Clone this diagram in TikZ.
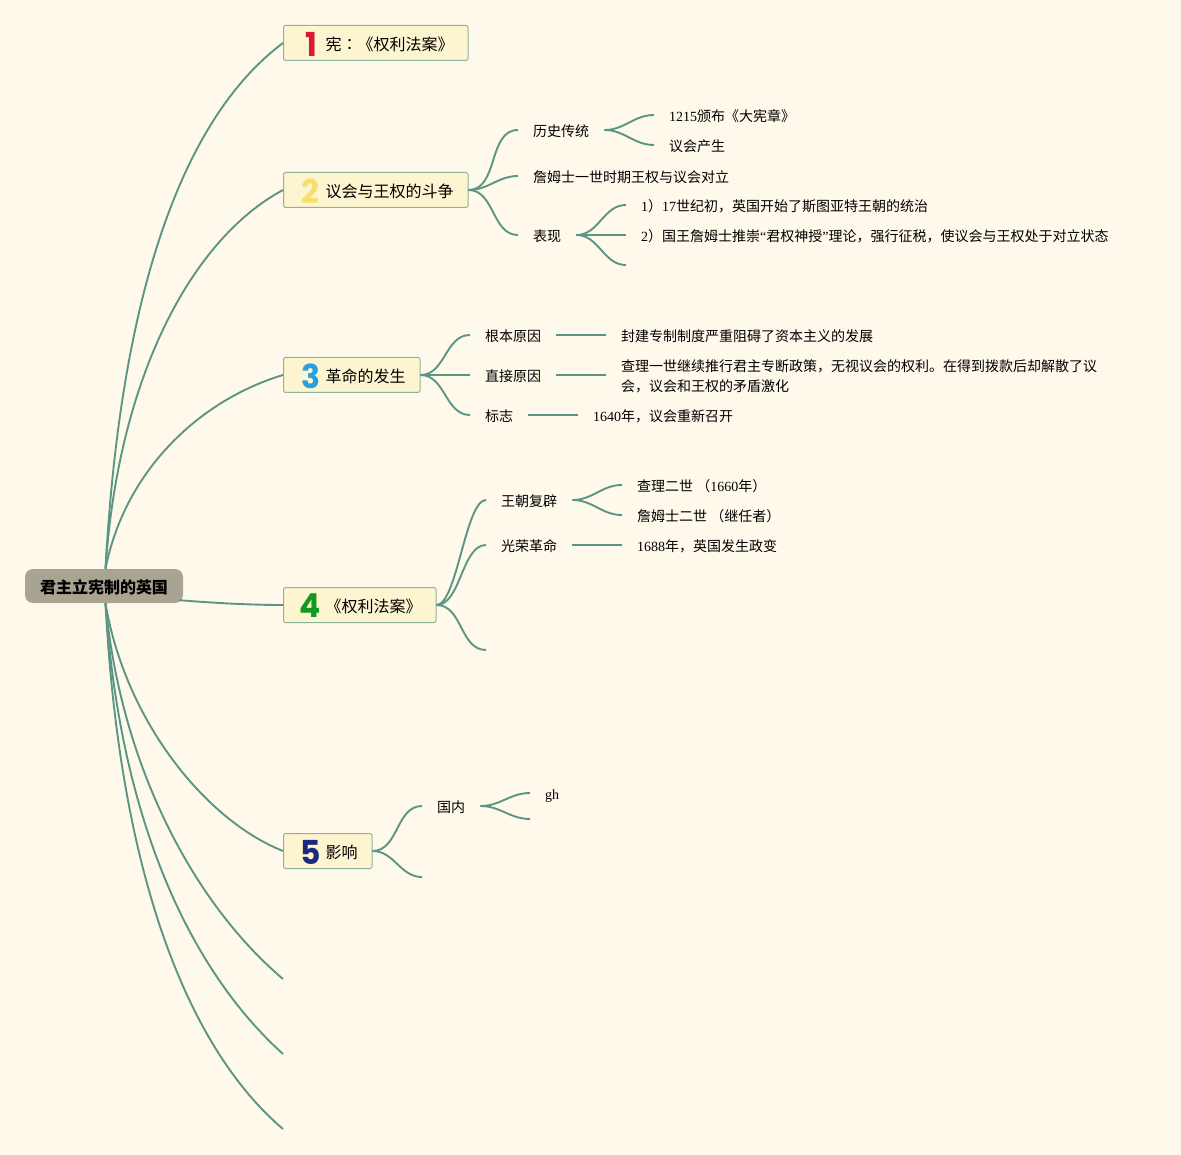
\documentclass[tikz,border=0pt]{standalone}
\usepackage{fontspec}
\setmainfont{Liberation Serif}
\newfontfamily\cjk{Noto Sans CJK SC}
\newfontfamily\cjktc{Noto Sans CJK TC}
\newfontfamily\digitfont{Poppins}
\newcommand{\zh}[1]{{\cjk #1}}
\usepackage{xcolor}
\definecolor{paper}{HTML}{FFF9EC}
\definecolor{linkgreen}{HTML}{5B9584}
\definecolor{boxedge}{HTML}{8DB39C}
\definecolor{boxfill}{HTML}{FDF4D0}
\definecolor{rootfill}{HTML}{A9A392}
\definecolor{numA}{HTML}{DA1A30}
\definecolor{numB}{HTML}{F5E06C}
\definecolor{numC}{HTML}{2A9FDF}
\definecolor{numD}{HTML}{129A20}
\definecolor{numE}{HTML}{1B2A7C}

\begin{document}
\begin{tikzpicture}[
  x=1pt, y=-1pt,
  every node/.style={font=\fontsize{14}{20}\selectfont},
  root/.style={fill=rootfill, rounded corners=8pt, minimum width=158pt, minimum height=34pt, inner sep=0pt, text height=15pt, text depth=0pt, font=\fontsize{16}{20}\selectfont\cjk\bfseries},
  topic/.style={draw=boxedge, line width=1pt, rounded corners=1.5pt, fill=boxfill, anchor=west, minimum height=35pt, inner xsep=14.5pt, inner ysep=0pt, text height=14.5pt, text depth=0pt, font=\fontsize{16}{20}\selectfont},
  digit/.style={font=\fontsize{33}{33}\selectfont\digitfont\bfseries, inner sep=0pt, xscale=.95, transform shape, yshift=-1pt},
  sub/.style={anchor=west, inner xsep=15pt, inner ysep=0pt, align=left, text height=14pt, text depth=1pt},
  link/.style={draw=linkgreen, line width=1.9pt},
]
\useasboundingbox[fill=paper] (0,0) rectangle (1181,1155);

% ── root ──
\node[root] (root) at (104,586) {君主立宪制的英国};

% ── topics ──
\node[topic] (t1) at (283,43) {\hspace*{27.5pt}\zh{宪}{\cjktc ：}\zh{《权利法案》}};
\node[topic] (t2) at (283,190) {\hspace*{27.5pt}\zh{议会与王权的斗争}};
\node[topic] (t3) at (283,375) {\hspace*{27.5pt}\zh{革命的发生}};
\node[topic] (t4) at (283,605) {\hspace*{27.5pt}\zh{《权利法案》}};
\node[topic] (t5) at (283,851) {\hspace*{27.5pt}\zh{影响}};

\node[digit, text=numA] (n1) at ([xshift=28.5pt]t1.west) {1};
\node[digit, text=numB] (n2) at ([xshift=27.5pt]t2.west) {2};
\node[digit, text=numC] (n3) at ([xshift=27.5pt]t3.west) {3};
\node[digit, text=numD] (n4) at ([xshift=27.5pt]t4.west) {4};
\node[digit, text=numE] (n5) at ([xshift=27.5pt]t5.west) {5};

\coordinate (e6) at (283,979);
\coordinate (e7) at (283,1054);
\coordinate (e8) at (283,1129);

\draw[link] ([xshift=1.5pt]root.north) .. controls (120,300) and (180,120) .. (t1.west);
\draw[link] ([xshift=1.5pt]root.north) .. controls (118,380) and (190,240) .. (t2.west);
\draw[link] ([xshift=1.5pt]root.north) .. controls (125,470) and (200,400) .. (t3.west);
\draw[link] ([shift={(-4,-3)}]root.south east) .. controls (215,603) and (250,605) .. (t4.west);
\draw[link] ([xshift=1.5pt]root.south) .. controls (125,720) and (205,820) .. (t5.west);
\draw[link] ([xshift=1.5pt]root.south) .. controls (120,760) and (190,900) .. (e6);
\draw[link] ([xshift=1.5pt]root.south) .. controls (120,820) and (190,970) .. (e7);
\draw[link] ([xshift=1.5pt]root.south) .. controls (120,880) and (190,1050) .. (e8);

% ── topic 2 ──
\node[sub] (a1) at (518,130) {\zh{历史传统}};
\node[sub] (a2) at (518,176) {\zh{詹姆士一世时期王权与议会对立}};
\node[sub] (a3) at (518,235) {\zh{表现}};
\node[sub] (a11) at (654,115) {1215\zh{颁布《大宪章》}};
\node[sub] (a12) at (654,145) {\zh{议会产生}};
\node[sub] (a31) at (626,205) {1\zh{）}17\zh{世纪初，英国开始了斯图亚特王朝的统治}};
\node[sub] (a32) at (626,235) {2\zh{）国王詹姆士推崇}“\zh{君权神授}”\zh{理论，强行征税，使议会与王权处于对立状态}};
\coordinate (a33) at (626,265);

\foreach \y in {a1,a2,a3}{ \draw[link] (t2.east) to[out=0,in=180] (\y.west); }
\foreach \y in {a11,a12}{ \draw[link] (a1.east) to[out=0,in=180] (\y.west); }
\draw[link] (a3.east) to[out=0,in=180] (a31.west);
\draw[link] (a3.east) -- (a32.west);
\draw[link] (a3.east) to[out=0,in=180] (a33);

% ── topic 3 ──
\node[sub] (b1) at (470,335) {\zh{根本原因}};
\node[sub] (b2) at (470,375) {\zh{直接原因}};
\node[sub] (b3) at (470,415) {\zh{标志}};
\node[sub] (b11) at (606,335) {\zh{封建专制制度严重阻碍了资本主义的发展}};
\node[sub, text height=, text depth=] (b21) at (606,376) {\zh{查理一世继续推行君主专断政策，无视议会的权利。在得到拨款后却解散了议}\\\zh{会，议会和王权的矛盾激化}};
\node[sub] (b31) at (578,415) {1640\zh{年，议会重新召开}};

\draw[link] (t3.east) to[out=0,in=180] (b1.west);
\draw[link] (t3.east) -- (b2.west);
\draw[link] (t3.east) to[out=0,in=180] (b3.west);
\draw[link] (b1.east) -- (b11.west);
\draw[link] (b2.east) -- (b2.east -| b21.west);
\draw[link] (b3.east) -- (b31.west);

% ── topic 4 ──
\node[sub] (c1) at (486,500) {\zh{王朝复辟}};
\node[sub] (c2) at (486,545) {\zh{光荣革命}};
\coordinate (c3) at (486,650);
\node[sub] (c11) at (622,485) {\zh{查理二世 （}1660\zh{年）}};
\node[sub] (c12) at (622,515) {\zh{詹姆士二世 （继任者）}};
\node[sub] (c21) at (622,545) {1688\zh{年，英国发生政变}};

\draw[link] (t4.east) to[out=0,in=180,looseness=.45] (c1.west);
\draw[link] (t4.east) to[out=0,in=180,looseness=.8] (c2.west);
\draw[link] (t4.east) to[out=0,in=180] (c3);
\foreach \y in {c11,c12}{ \draw[link] (c1.east) to[out=0,in=180] (\y.west); }
\draw[link] (c2.east) -- (c21.west);

% ── topic 5 ──
\node[sub] (d1) at (422,806) {\zh{国内}};
\coordinate (d2) at (422,877);
\node[sub] (d11) at (530,793) {gh};
\coordinate (d12) at (530,819);

\foreach \y in {d1.west,d2}{ \draw[link] (t5.east) to[out=0,in=180] (\y); }
\foreach \y in {d11.west,d12}{ \draw[link] (d1.east) to[out=0,in=180] (\y); }

\end{tikzpicture}
\end{document}
